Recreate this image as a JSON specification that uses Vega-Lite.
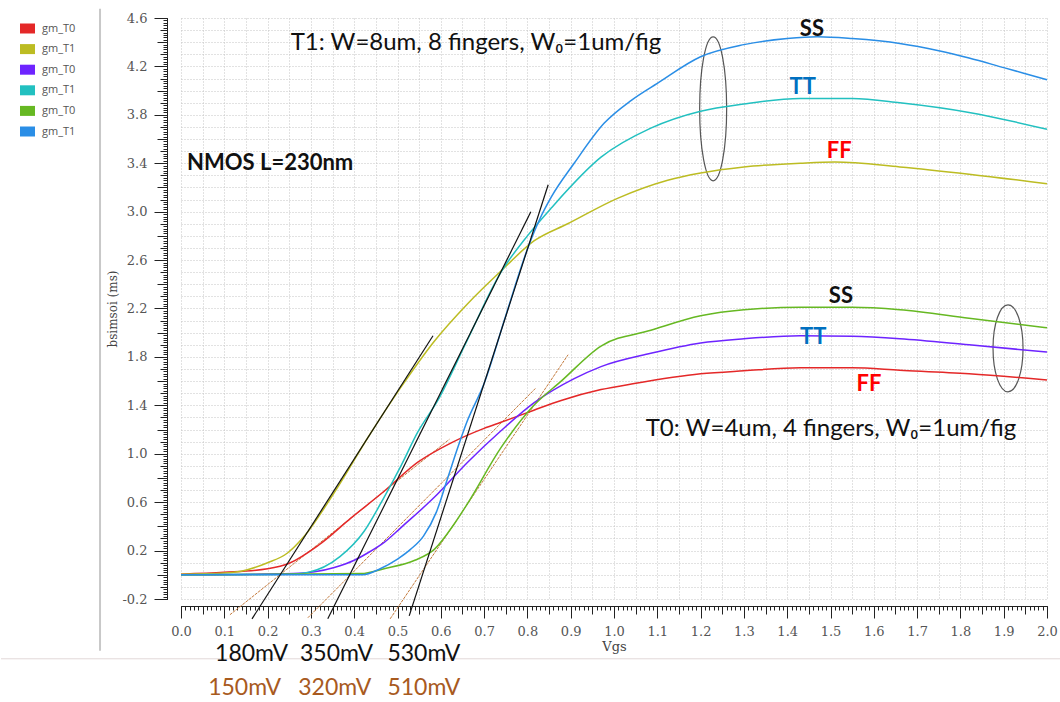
{
  "$schema": "https://vega.github.io/schema/vega-lite/v6.json",
  "width": 866,
  "height": 581,
  "padding": {"top": 7, "left": 0, "right": 0, "bottom": 0},
  "background": "white",
  "config": {"view": {"stroke": null}},
  "datasets": {
    "curves": [
      {"s":"T0_FF","v":0,"g":0.005},{"s":"T0_FF","v":0.1,"g":0.02},{"s":"T0_FF","v":0.2,"g":0.05},{"s":"T0_FF","v":0.25,"g":0.095},{"s":"T0_FF","v":0.316,"g":0.24},{"s":"T0_FF","v":0.393,"g":0.47},{"s":"T0_FF","v":0.469,"g":0.69},{"s":"T0_FF","v":0.547,"g":0.93},{"s":"T0_FF","v":0.624,"g":1.09},{"s":"T0_FF","v":0.7,"g":1.21},{"s":"T0_FF","v":0.739,"g":1.26},{"s":"T0_FF","v":0.815,"g":1.36},{"s":"T0_FF","v":0.878,"g":1.44},{"s":"T0_FF","v":0.97,"g":1.53},{"s":"T0_FF","v":1.047,"g":1.58},{"s":"T0_FF","v":1.2,"g":1.66},{"s":"T0_FF","v":1.3,"g":1.685},{"s":"T0_FF","v":1.43,"g":1.71},{"s":"T0_FF","v":1.55,"g":1.71},{"s":"T0_FF","v":1.66,"g":1.69},{"s":"T0_FF","v":1.82,"g":1.66},{"s":"T0_FF","v":2.0,"g":1.61},
      {"s":"T1_FF","v":0,"g":0.005},{"s":"T1_FF","v":0.1,"g":0.015},{"s":"T1_FF","v":0.139,"g":0.03},{"s":"T1_FF","v":0.2,"g":0.1},{"s":"T1_FF","v":0.246,"g":0.18},{"s":"T1_FF","v":0.285,"g":0.32},{"s":"T1_FF","v":0.354,"g":0.68},{"s":"T1_FF","v":0.431,"g":1.13},{"s":"T1_FF","v":0.508,"g":1.55},{"s":"T1_FF","v":0.585,"g":1.93},{"s":"T1_FF","v":0.662,"g":2.24},{"s":"T1_FF","v":0.739,"g":2.51},{"s":"T1_FF","v":0.816,"g":2.76},{"s":"T1_FF","v":0.893,"g":2.9},{"s":"T1_FF","v":1.008,"g":3.11},{"s":"T1_FF","v":1.124,"g":3.26},{"s":"T1_FF","v":1.2,"g":3.32},{"s":"T1_FF","v":1.3,"g":3.37},{"s":"T1_FF","v":1.43,"g":3.4},{"s":"T1_FF","v":1.51,"g":3.41},{"s":"T1_FF","v":1.66,"g":3.37},{"s":"T1_FF","v":1.82,"g":3.31},{"s":"T1_FF","v":2.0,"g":3.23},
      {"s":"T0_TT","v":0,"g":0},{"s":"T0_TT","v":0.26,"g":0.01},{"s":"T0_TT","v":0.354,"g":0.06},{"s":"T0_TT","v":0.4,"g":0.12},{"s":"T0_TT","v":0.431,"g":0.18},{"s":"T0_TT","v":0.47,"g":0.27},{"s":"T0_TT","v":0.508,"g":0.39},{"s":"T0_TT","v":0.585,"g":0.64},{"s":"T0_TT","v":0.662,"g":0.93},{"s":"T0_TT","v":0.739,"g":1.19},{"s":"T0_TT","v":0.815,"g":1.42},{"s":"T0_TT","v":0.908,"g":1.62},{"s":"T0_TT","v":0.97,"g":1.72},{"s":"T0_TT","v":1.085,"g":1.83},{"s":"T0_TT","v":1.2,"g":1.915},{"s":"T0_TT","v":1.3,"g":1.95},{"s":"T0_TT","v":1.43,"g":1.975},{"s":"T0_TT","v":1.55,"g":1.97},{"s":"T0_TT","v":1.66,"g":1.95},{"s":"T0_TT","v":1.82,"g":1.9},{"s":"T0_TT","v":2.0,"g":1.84},
      {"s":"T1_TT","v":0,"g":0},{"s":"T1_TT","v":0.25,"g":0.005},{"s":"T1_TT","v":0.293,"g":0.02},{"s":"T1_TT","v":0.367,"g":0.15},{"s":"T1_TT","v":0.423,"g":0.36},{"s":"T1_TT","v":0.469,"g":0.64},{"s":"T1_TT","v":0.508,"g":0.9},{"s":"T1_TT","v":0.547,"g":1.18},{"s":"T1_TT","v":0.593,"g":1.44},{"s":"T1_TT","v":0.66,"g":1.93},{"s":"T1_TT","v":0.739,"g":2.5},{"s":"T1_TT","v":0.8,"g":2.8},{"s":"T1_TT","v":0.855,"g":3.03},{"s":"T1_TT","v":0.97,"g":3.45},{"s":"T1_TT","v":1.085,"g":3.69},{"s":"T1_TT","v":1.2,"g":3.83},{"s":"T1_TT","v":1.3,"g":3.89},{"s":"T1_TT","v":1.43,"g":3.935},{"s":"T1_TT","v":1.55,"g":3.935},{"s":"T1_TT","v":1.66,"g":3.9},{"s":"T1_TT","v":1.82,"g":3.82},{"s":"T1_TT","v":2.0,"g":3.68},
      {"s":"T0_SS","v":0,"g":0},{"s":"T0_SS","v":0.416,"g":0.01},{"s":"T0_SS","v":0.469,"g":0.05},{"s":"T0_SS","v":0.54,"g":0.12},{"s":"T0_SS","v":0.585,"g":0.21},{"s":"T0_SS","v":0.631,"g":0.42},{"s":"T0_SS","v":0.662,"g":0.59},{"s":"T0_SS","v":0.739,"g":1.05},{"s":"T0_SS","v":0.815,"g":1.4},{"s":"T0_SS","v":0.878,"g":1.6},{"s":"T0_SS","v":0.97,"g":1.89},{"s":"T0_SS","v":1.085,"g":2.02},{"s":"T0_SS","v":1.2,"g":2.14},{"s":"T0_SS","v":1.3,"g":2.19},{"s":"T0_SS","v":1.43,"g":2.21},{"s":"T0_SS","v":1.55,"g":2.21},{"s":"T0_SS","v":1.66,"g":2.19},{"s":"T0_SS","v":1.82,"g":2.12},{"s":"T0_SS","v":2.0,"g":2.04},
      {"s":"T1_SS","v":0,"g":0},{"s":"T1_SS","v":0.42,"g":0},{"s":"T1_SS","v":0.46,"g":0.05},{"s":"T1_SS","v":0.5,"g":0.13},{"s":"T1_SS","v":0.53,"g":0.21},{"s":"T1_SS","v":0.56,"g":0.32},{"s":"T1_SS","v":0.59,"g":0.52},{"s":"T1_SS","v":0.616,"g":0.8},{"s":"T1_SS","v":0.64,"g":1.06},{"s":"T1_SS","v":0.66,"g":1.26},{"s":"T1_SS","v":0.7,"g":1.58},{"s":"T1_SS","v":0.75,"g":2.14},{"s":"T1_SS","v":0.8,"g":2.69},{"s":"T1_SS","v":0.83,"g":2.95},{"s":"T1_SS","v":0.855,"g":3.12},{"s":"T1_SS","v":0.908,"g":3.4},{"s":"T1_SS","v":0.977,"g":3.73},{"s":"T1_SS","v":1.04,"g":3.92},{"s":"T1_SS","v":1.1,"g":4.06},{"s":"T1_SS","v":1.2,"g":4.28},{"s":"T1_SS","v":1.3,"g":4.38},{"s":"T1_SS","v":1.4,"g":4.43},{"s":"T1_SS","v":1.47,"g":4.445},{"s":"T1_SS","v":1.55,"g":4.43},{"s":"T1_SS","v":1.66,"g":4.39},{"s":"T1_SS","v":1.75,"g":4.33},{"s":"T1_SS","v":1.82,"g":4.27},{"s":"T1_SS","v":1.9,"g":4.19},{"s":"T1_SS","v":2.0,"g":4.09}
    ],
    "tangents": [
      {"k":"black","v":0.164,"g":-0.364,"v2":0.582,"g2":1.975},
      {"k":"black","v":0.339,"g":-0.364,"v2":0.808,"g2":2.999},
      {"k":"black","v":0.527,"g":-0.339,"v2":0.848,"g2":3.222},
      {"k":"brown","v":0.113,"g":-0.33,"v2":0.62,"g2":1.12},
      {"k":"brown","v":0.293,"g":-0.355,"v2":0.82,"g2":1.545},
      {"k":"brown","v":0.483,"g":-0.364,"v2":0.894,"g2":1.818}
    ],
    "ellipses": [
      {"e":"a","v":1.229,"g":3.85},
      {"e":"b","v":1.91,"g":1.871}
    ],
    "frame": [
      {"v":-0.187,"g":4.676,"v2":-0.187,"g2":-0.628,"k":"vertical"},
      {"v":-0.4157,"g":-0.694,"v2":2.0323,"g2":-0.694,"k":"horizontal"}
    ],
    "labels": [
      {"k":"note","t":"T1: W=8um, 8 fingers, W₀=1um/fig","v":0.681,"g":4.395},
      {"k":"note","t":"T0: W=4um, 4 fingers, W₀=1um/fig","v":1.501,"g":1.206},
      {"k":"nmos","t":"NMOS L=230nm","v":0.014,"g":3.404},
      {"k":"SS","t":"SS","v":1.457,"g":4.511},
      {"k":"TT","t":"TT","v":1.436,"g":4.032},
      {"k":"FF","t":"FF","v":1.52,"g":3.503},
      {"k":"SS","t":"SS","v":1.524,"g":2.305},
      {"k":"TT","t":"TT","v":1.46,"g":1.966},
      {"k":"FF","t":"FF","v":1.589,"g":1.578},
      {"k":"mv","t":"180mV","v":0.163,"g":-0.653},
      {"k":"mv","t":"350mV","v":0.359,"g":-0.653},
      {"k":"mv","t":"530mV","v":0.561,"g":-0.653},
      {"k":"mvb","t":"150mV","v":0.147,"g":-0.934},
      {"k":"mvb","t":"320mV","v":0.355,"g":-0.934},
      {"k":"mvb","t":"510mV","v":0.561,"g":-0.934}
    ]
  },
  "resolve": {"axis": {"x": "independent", "y": "independent"}},
  "layer": [
    {
      "data": {"name": "frame"},
      "transform": [{"filter": "datum.k == 'vertical'"}],
      "mark": {"type": "rule", "color": "#c8c8c8", "strokeWidth": 2},
      "encoding": {
        "x": {"field": "v", "type": "quantitative", "scale": {"domain": [0, 2], "nice": false, "zero": false}, "axis": null},
        "y": {"field": "g", "type": "quantitative", "scale": {"domain": [-0.2, 4.6], "nice": false, "zero": false}, "axis": null},
        "x2": {"field": "v2"},
        "y2": {"field": "g2"}
      }
    },
    {
      "data": {"name": "frame"},
      "transform": [{"filter": "datum.k == 'horizontal'"}],
      "mark": {"type": "rule", "color": "#e2d8d8", "strokeWidth": 1},
      "encoding": {
        "x": {"field": "v", "type": "quantitative", "scale": {"domain": [0, 2], "nice": false, "zero": false}, "axis": null},
        "y": {"field": "g", "type": "quantitative", "scale": {"domain": [-0.2, 4.6], "nice": false, "zero": false}, "axis": null},
        "x2": {"field": "v2"},
        "y2": {"field": "g2"}
      }
    },
    {
      "data": {"name": "tangents"},
      "transform": [{"filter": "datum.k == 'brown'"}],
      "mark": {"type": "rule", "color": "#c47a3c", "strokeWidth": 1, "strokeDash": [3, 1]},
      "encoding": {
        "x": {"field": "v", "type": "quantitative", "scale": {"domain": [0, 2], "nice": false, "zero": false},
          "axis": {"orient": "bottom", "offset": 7, "tickCount": 200, "labels": false, "domain": false, "grid": false, "tickSize": 4, "tickColor": "#222", "title": null}},
        "y": {"field": "g", "type": "quantitative", "scale": {"domain": [-0.2, 4.6], "nice": false, "zero": false},
          "axis": {"orient": "left", "offset": 14, "tickCount": 240, "labels": false, "domain": false, "grid": false, "tickSize": 4, "tickColor": "#222", "title": null}},
        "x2": {"field": "v2"},
        "y2": {"field": "g2"}
      }
    },
    {
      "data": {"name": "ellipses"},
      "transform": [{"filter": "datum.e == 'a'"}],
      "mark": {"type": "point", "filled": false, "stroke": "#111", "strokeWidth": 1.2, "shape": "M0,-1A0.1875,1 0 1,1 0,1A0.1875,1 0 1,1 0,-1Z", "size": 20736},
      "encoding": {
        "x": {"field": "v", "type": "quantitative", "scale": {"domain": [0, 2], "nice": false, "zero": false}, "axis": null},
        "y": {"field": "g", "type": "quantitative", "scale": {"domain": [-0.2, 4.6], "nice": false, "zero": false},
          "axis": {"orient": "left", "offset": 14, "tickCount": 24, "labels": false, "domain": false, "grid": false, "tickSize": 10, "tickColor": "#222", "title": null}}
      }
    },
    {
      "data": {"name": "ellipses"},
      "transform": [{"filter": "datum.e == 'b'"}],
      "mark": {"type": "point", "filled": false, "stroke": "#111", "strokeWidth": 1.2, "shape": "M0,-1A0.345,1 0 1,1 0,1A0.345,1 0 1,1 0,-1Z", "size": 7569},
      "encoding": {
        "x": {"field": "v", "type": "quantitative", "scale": {"domain": [0, 2], "nice": false, "zero": false}, "axis": null},
        "y": {"field": "g", "type": "quantitative", "scale": {"domain": [-0.2, 4.6], "nice": false, "zero": false}, "axis": null}
      }
    },
    {
      "data": {"name": "curves"},
      "mark": {"type": "line", "strokeWidth": 1.5, "interpolate": "monotone"},
      "encoding": {
        "x": {"field": "v", "type": "quantitative", "scale": {"domain": [0, 2], "nice": false, "zero": false},
          "axis": {"orient": "bottom", "offset": 7, "tickCount": 20, "format": ".1f", "tickSize": 12, "tickColor": "#222", "domainColor": "#222", "grid": false,
            "labelFont": "DejaVu Serif", "labelFontSize": 13, "labelColor": "#555", "labelPadding": 7, "labelFlush": false, "labelOverlap": false,
            "title": "Vgs", "titleFont": "DejaVu Serif", "titleFontSize": 13, "titleFontWeight": "normal", "titleColor": "#444", "titlePadding": 2}},
        "y": {"field": "g", "type": "quantitative", "scale": {"domain": [-0.2, 4.6], "nice": false, "zero": false},
          "axis": {"orient": "left", "offset": 14, "values": [-0.2, 0.2, 0.6, 1.0, 1.4, 1.8, 2.2, 2.6, 3.0, 3.4, 3.8, 4.2, 4.6], "format": ".1f", "labelExpr": "replace(datum.label, '−', '-')", "tickSize": 13, "tickColor": "#222", "domainColor": "#222", "grid": false,
            "labelFont": "DejaVu Serif", "labelFontSize": 13, "labelColor": "#555", "labelPadding": 7, "labelFlush": false, "labelOverlap": false,
            "title": "bsimsoi (ms)", "titleFont": "DejaVu Serif", "titleFontSize": 12, "titleFontWeight": "normal", "titleColor": "#444", "titlePadding": 2}},
        "color": {"field": "s", "type": "nominal",
          "scale": {"domain": ["T0_FF", "T1_FF", "T0_TT", "T1_TT", "T0_SS", "T1_SS"], "range": ["#e42828", "#bcbc22", "#6e24ff", "#22c0c0", "#66b822", "#2a8ee6"]},
          "legend": {"orient": "left", "title": null, "offset": 25, "padding": 5, "symbolType": "M-1.5,-1H1.5V1H-1.5Z", "symbolSize": 100, "symbolStrokeWidth": 0,
            "labelFont": "Open Sans", "labelFontSize": 11, "labelColor": "#555", "labelOffset": 9, "rowPadding": 8.6,
            "labelExpr": "indexof(datum.value, 'T0') >= 0 ? 'gm_T0' : 'gm_T1'",
            "encode": {"symbols": {"update": {"fill": {"scale": "color", "field": "value"}, "strokeWidth": {"value": 0}}}}}}
      }
    },
    {
      "data": {"name": "tangents"},
      "transform": [{"filter": "datum.k == 'black'"}],
      "mark": {"type": "rule", "color": "#111", "strokeWidth": 1.2},
      "encoding": {
        "x": {"field": "v", "type": "quantitative", "scale": {"domain": [0, 2], "nice": false, "zero": false},
          "axis": {"orient": "bottom", "offset": 7, "tickCount": 40, "labels": false, "domain": false, "tickSize": 8, "tickColor": "#222", "grid": true, "gridColor": "#c4c4c4", "gridDash": [1, 2], "gridWidth": 1, "title": null}},
        "y": {"field": "g", "type": "quantitative", "scale": {"domain": [-0.2, 4.6], "nice": false, "zero": false},
          "axis": {"orient": "left", "offset": 14, "tickCount": 48, "labels": false, "domain": false, "tickSize": 7, "tickColor": "#222", "grid": true, "gridColor": "#c4c4c4", "gridDash": [1, 2], "gridWidth": 1, "title": null}},
        "x2": {"field": "v2"},
        "y2": {"field": "g2"}
      }
    },
    {
      "data": {"name": "labels"},
      "transform": [{"filter": "datum.k == 'note'"}],
      "mark": {"type": "text", "font": "Lato", "fontSize": 24, "color": "#111", "align": "center", "baseline": "middle"},
      "encoding": {
        "x": {"field": "v", "type": "quantitative", "scale": {"domain": [0, 2], "nice": false, "zero": false}, "axis": null},
        "y": {"field": "g", "type": "quantitative", "scale": {"domain": [-0.2, 4.6], "nice": false, "zero": false}, "axis": null},
        "text": {"field": "t"}
      }
    },
    {
      "data": {"name": "labels"},
      "transform": [{"filter": "datum.k == 'nmos'"}],
      "mark": {"type": "text", "font": "Lato", "fontSize": 22, "fontWeight": "bold", "color": "#111", "align": "left", "baseline": "middle"},
      "encoding": {
        "x": {"field": "v", "type": "quantitative", "scale": {"domain": [0, 2], "nice": false, "zero": false}, "axis": null},
        "y": {"field": "g", "type": "quantitative", "scale": {"domain": [-0.2, 4.6], "nice": false, "zero": false}, "axis": null},
        "text": {"field": "t"}
      }
    },
    {
      "data": {"name": "labels"},
      "transform": [{"filter": "datum.k == 'SS'"}],
      "mark": {"type": "text", "font": "Lato", "fontSize": 22, "fontWeight": "bold", "color": "#111", "align": "center", "baseline": "middle"},
      "encoding": {
        "x": {"field": "v", "type": "quantitative", "scale": {"domain": [0, 2], "nice": false, "zero": false}, "axis": null},
        "y": {"field": "g", "type": "quantitative", "scale": {"domain": [-0.2, 4.6], "nice": false, "zero": false}, "axis": null},
        "text": {"field": "t"}
      }
    },
    {
      "data": {"name": "labels"},
      "transform": [{"filter": "datum.k == 'TT'"}],
      "mark": {"type": "text", "font": "Lato", "fontSize": 22, "fontWeight": "bold", "color": "#0070c0", "align": "center", "baseline": "middle"},
      "encoding": {
        "x": {"field": "v", "type": "quantitative", "scale": {"domain": [0, 2], "nice": false, "zero": false}, "axis": null},
        "y": {"field": "g", "type": "quantitative", "scale": {"domain": [-0.2, 4.6], "nice": false, "zero": false}, "axis": null},
        "text": {"field": "t"}
      }
    },
    {
      "data": {"name": "labels"},
      "transform": [{"filter": "datum.k == 'FF'"}],
      "mark": {"type": "text", "font": "Lato", "fontSize": 22, "fontWeight": "bold", "color": "#ff0000", "align": "center", "baseline": "middle"},
      "encoding": {
        "x": {"field": "v", "type": "quantitative", "scale": {"domain": [0, 2], "nice": false, "zero": false}, "axis": null},
        "y": {"field": "g", "type": "quantitative", "scale": {"domain": [-0.2, 4.6], "nice": false, "zero": false}, "axis": null},
        "text": {"field": "t"}
      }
    },
    {
      "data": {"name": "labels"},
      "transform": [{"filter": "datum.k == 'mv'"}],
      "mark": {"type": "text", "font": "Lato", "fontSize": 23, "color": "#111", "align": "center", "baseline": "middle"},
      "encoding": {
        "x": {"field": "v", "type": "quantitative", "scale": {"domain": [0, 2], "nice": false, "zero": false}, "axis": null},
        "y": {"field": "g", "type": "quantitative", "scale": {"domain": [-0.2, 4.6], "nice": false, "zero": false}, "axis": null},
        "text": {"field": "t"}
      }
    },
    {
      "data": {"name": "labels"},
      "transform": [{"filter": "datum.k == 'mvb'"}],
      "mark": {"type": "text", "font": "Lato", "fontSize": 23, "color": "#a85a1e", "align": "center", "baseline": "middle"},
      "encoding": {
        "x": {"field": "v", "type": "quantitative", "scale": {"domain": [0, 2], "nice": false, "zero": false}, "axis": null},
        "y": {"field": "g", "type": "quantitative", "scale": {"domain": [-0.2, 4.6], "nice": false, "zero": false}, "axis": null},
        "text": {"field": "t"}
      }
    }
  ]
}
